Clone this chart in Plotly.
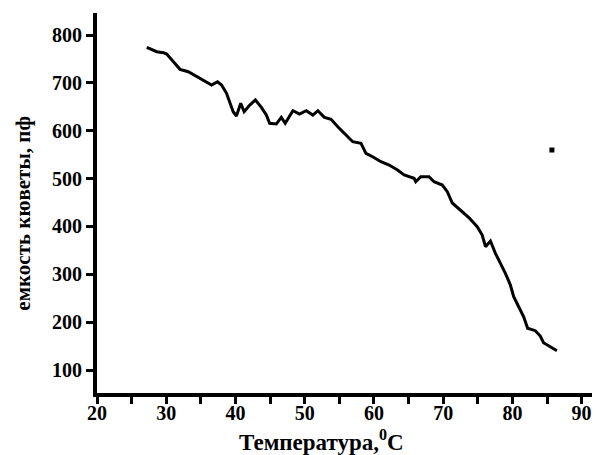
import plotly.graph_objects as go

# Temperature (°C) and cuvette capacitance (pF)
temperature = [27.19, 28.63, 29.60, 30.07, 31.04, 31.99, 33.19, 34.39, 35.35, 36.55,
               37.41, 37.99, 38.71, 39.18, 39.67, 40.14, 40.76, 41.25, 42.06, 42.88,
               43.74, 44.46, 44.94, 45.90, 46.62, 47.19, 48.30, 49.25, 50.22, 51.18,
               51.90, 52.85, 53.81, 54.78, 55.97, 56.94, 58.13, 58.85, 59.81, 61.01,
               62.20, 63.41, 64.36, 65.80, 66.04, 66.76, 67.96, 68.68, 69.88, 70.60,
               71.32, 72.52, 73.71, 74.92, 75.64, 76.12, 76.83, 77.55, 78.27, 78.99,
               79.71, 80.19, 80.91, 81.63, 82.20, 83.31, 84.03, 84.50, 85.47, 86.43]
capacitance = [774.3, 765.1, 763.0, 760.3, 744.2, 728.3, 723.3, 712.9, 704.5, 695.5,
               702.4, 695.5, 678.2, 660.6, 639.7, 630.8, 657.3, 639.7, 653.7, 664.2,
               648.9, 632.8, 615.5, 614.0, 628.0, 615.5, 641.8, 634.9, 641.8, 632.8,
               641.8, 628.0, 623.9, 608.4, 591.1, 577.1, 573.7, 552.8, 545.7, 535.3,
               528.4, 517.9, 507.5, 500.6, 493.5, 503.9, 503.9, 493.5, 486.6, 472.6,
               449.0, 434.4, 418.7, 399.5, 382.1, 357.7, 369.6, 343.9, 323.0, 302.1,
               277.7, 253.2, 232.3, 211.4, 187.2, 182.2, 171.1, 157.1, 148.7, 140.4]
stray_x = [85.71]
stray_y = [559.7]

x_ticks = [20, 30, 40, 50, 60, 70, 80, 90]
y_ticks = [100, 200, 300, 400, 500, 600, 700, 800]

FONT = "Liberation Serif"

fig = go.Figure()
fig.add_trace(go.Scatter(x=temperature, y=capacitance, mode="lines",
                         line=dict(color="black", width=3), showlegend=False))
fig.add_trace(go.Scatter(x=stray_x, y=stray_y, mode="markers",
                         marker=dict(color="black", size=5, symbol="square"),
                         showlegend=False))

fig.update_layout(
    width=596, height=455,
    margin=dict(l=97, r=4, t=13, b=62),
    paper_bgcolor="white", plot_bgcolor="white",
    xaxis=dict(range=[20, 91.5], tickvals=x_ticks, ticks="outside", ticklen=7,
               tickwidth=3, tickcolor="black", showline=True, linewidth=4,
               linecolor="black", showgrid=False, zeroline=False,
               ticklabelstandoff=-8,
               tickfont=dict(family=FONT, size=20, color="black", weight="bold"),
               minor=dict(dtick=5, ticks="outside", ticklen=7, tickwidth=3,
                          tickcolor="black", showgrid=False)),
    yaxis=dict(range=[52, 846], tickvals=y_ticks, ticks="outside", ticklen=7,
               tickwidth=3, tickcolor="black", showline=True, linewidth=4,
               linecolor="black", showgrid=False, zeroline=False,
               tickfont=dict(family=FONT, size=20, color="black", weight="bold")),
    annotations=[
        dict(text="Температура,<sup>0</sup>C", xref="paper", yref="paper",
             x=0.453, y=-0.126, xanchor="center", yanchor="middle", showarrow=False,
             font=dict(family=FONT, size=23, color="black", weight="bold")),
        dict(text="емкость кюветы, пф", xref="paper", yref="paper",
             x=-0.15, y=0.474, xanchor="center", yanchor="middle", showarrow=False,
             textangle=-90,
             font=dict(family=FONT, size=21, color="black", weight="bold")),
    ],
)

fig.write_html("out.html")
